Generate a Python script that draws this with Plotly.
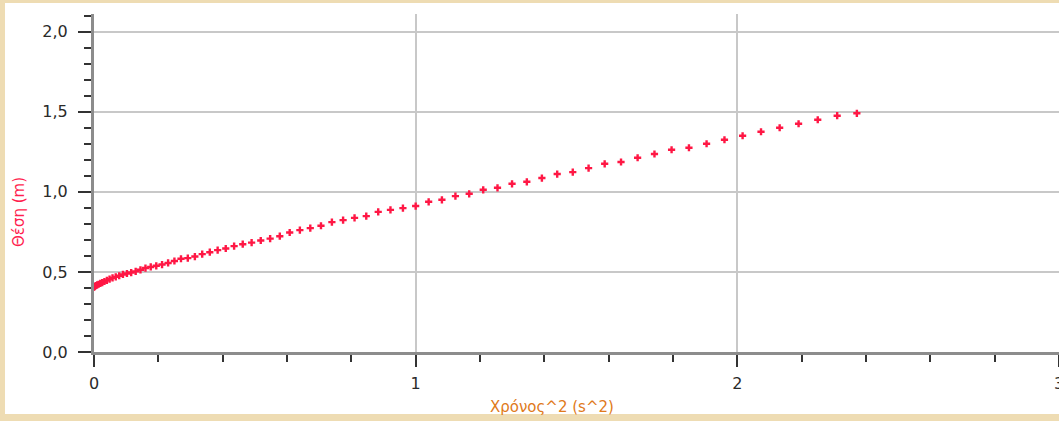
import plotly.graph_objects as go

# Data (x = time^2 in s^2, y = position in m)
time_sq = [0.0, 0.0004, 0.0016, 0.0036, 0.0064, 0.01, 0.0144, 0.0196, 0.0256, 0.0324,
           0.04, 0.0484, 0.0576, 0.0676, 0.0784, 0.09, 0.1024, 0.1156, 0.1296, 0.1444,
           0.16, 0.1764, 0.1936, 0.2116, 0.2304, 0.25, 0.2704, 0.2916, 0.3136, 0.3364,
           0.36, 0.3844, 0.4096, 0.4356, 0.4624, 0.49, 0.5184, 0.5476, 0.5776, 0.6084,
           0.64, 0.6724, 0.7056, 0.7396, 0.7744, 0.81, 0.8464, 0.8836, 0.9216, 0.9604,
           1.0, 1.0404, 1.0816, 1.1236, 1.1664, 1.21, 1.2544, 1.2996, 1.3456, 1.3924,
           1.44, 1.4884, 1.5376, 1.5876, 1.6384, 1.69, 1.7424, 1.7956, 1.8496, 1.9044,
           1.96, 2.0164, 2.0736, 2.1316, 2.1904, 2.25, 2.3104, 2.3716]
position = [0.405, 0.406, 0.409, 0.411, 0.415, 0.419, 0.423, 0.428, 0.433, 0.440,
            0.447, 0.455, 0.463, 0.469, 0.476, 0.484, 0.490, 0.496, 0.503, 0.513,
            0.524, 0.531, 0.538, 0.546, 0.556, 0.568, 0.582, 0.586, 0.596, 0.611,
            0.623, 0.636, 0.646, 0.661, 0.673, 0.683, 0.696, 0.708, 0.723, 0.746,
            0.761, 0.773, 0.788, 0.811, 0.823, 0.8375, 0.848, 0.875, 0.8875, 0.898,
            0.911, 0.9375, 0.950, 0.973, 0.9875, 1.0125, 1.025, 1.050, 1.0625, 1.086,
            1.111, 1.123, 1.148, 1.175, 1.186, 1.2125, 1.236, 1.2625, 1.275, 1.300,
            1.325, 1.350, 1.375, 1.400, 1.425, 1.450, 1.475, 1.490]

x_tick_vals = [0, 1, 2, 3]
x_tick_text = ["0", "1", "2", "3"]
y_tick_vals = [0.0, 0.5, 1.0, 1.5, 2.0]
y_tick_text = ["0,0", "0,5", "1,0", "1,5", "2,0"]

x_title = "Χρόνος^2 (s^2)"
y_title = "Θέση (m)"

W, H = 1059, 421
ML, MR, MT, MB = 94, 0, 14, 69
PW, PH = W - ML - MR, H - MT - MB

def px_x(px):
    return (px - ML) / PW

def px_y(py):
    return (H - MB - py) / PH

fig = go.Figure()
fig.add_trace(go.Scatter(
    x=time_sq, y=position, mode="markers",
    marker=dict(symbol="cross", size=6, color="#FF1744", line=dict(width=0)),
    showlegend=False, hoverinfo="x+y",
))

axis_font = dict(family="DejaVu Sans, Verdana, sans-serif", size=16, color="#2A2A2A")

fig.update_xaxes(
    range=[0, 3], tickmode="array", tickvals=x_tick_vals, ticktext=x_tick_text,
    ticks="outside", ticklen=12, tickwidth=2, tickcolor="#333333",
    ticklabelstandoff=3, ticklabeloverflow="allow", automargin=False,
    tickfont=axis_font,
    showline=True, linecolor="#8C8C8C", linewidth=3,
    showgrid=True, gridcolor="#C8C8C8", gridwidth=2,
    zeroline=False,
    minor=dict(tickmode="linear", tick0=0, dtick=0.2, ticks="outside", ticklen=7,
               tickwidth=2, tickcolor="#333333", showgrid=False),
)
fig.update_yaxes(
    range=[0, 2.11], tickmode="array", tickvals=y_tick_vals, ticktext=y_tick_text,
    ticks="outside", ticklen=13, tickwidth=2, tickcolor="#333333",
    ticklabelstandoff=7, automargin=False,
    tickfont=axis_font,
    showline=True, linecolor="#8C8C8C", linewidth=3,
    showgrid=True, gridcolor="#C8C8C8", gridwidth=2,
    zeroline=False,
    minor=dict(tickmode="linear", tick0=0, dtick=0.1, ticks="outside", ticklen=7,
               tickwidth=2, tickcolor="#333333", showgrid=False),
)

title_font = "DejaVu Sans, Verdana, sans-serif"
fig.update_layout(
    width=W, height=H,
    margin=dict(l=ML, r=MR, t=MT, b=MB, pad=0, autoexpand=False),
    paper_bgcolor="#EEDCB3",
    plot_bgcolor="#FFFFFF",
    shapes=[dict(type="rect", xref="paper", yref="paper",
                 x0=px_x(5), x1=px_x(1070), y0=px_y(414), y1=px_y(3),
                 fillcolor="#FFFFFF", line=dict(width=0), layer="below")],
    annotations=[
        dict(text=y_title, xref="paper", yref="paper", x=px_x(19), y=px_y(212),
             textangle=-90, showarrow=False, xanchor="center", yanchor="middle",
             font=dict(family=title_font, size=15, color="#FF1F4F")),
        dict(text=x_title, xref="paper", yref="paper", x=px_x(552), y=px_y(407),
             showarrow=False, xanchor="center", yanchor="middle",
             font=dict(family=title_font, size=15, color="#E07A1A")),
    ],
)

fig.write_html("out.html", config={"displayModeBar": False},
               post_script="document.body.style.margin='0';")
